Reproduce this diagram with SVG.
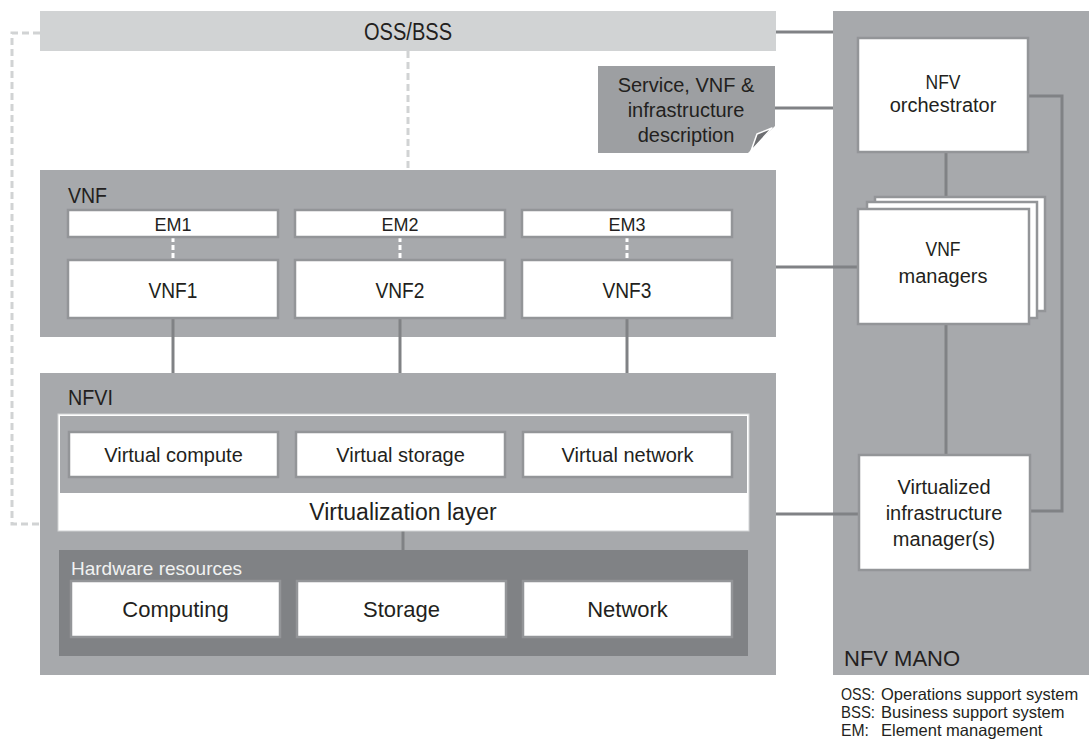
<svg xmlns="http://www.w3.org/2000/svg" width="1089" height="744" viewBox="0 0 1089 744">
<style>
text{font-family:"Liberation Sans",Arial,sans-serif;fill:#231f20}
.panel{fill:#a7a9ac}
.box{fill:#ffffff;stroke:#939598;stroke-width:2.5}
.c{text-anchor:middle}
.big{font-size:22px}
.mid{font-size:20px}
.conn{fill:none;stroke:#808285;stroke-width:3}
.dash{fill:none;stroke:#d1d3d4;stroke-width:3;stroke-dasharray:7 4}
.wdash{fill:none;stroke:#ffffff;stroke-width:3;stroke-dasharray:5 3}
</style>
<rect width="1089" height="744" fill="#ffffff"/>

<g id="connectors-back">
<path class="conn" d="M776,32 H833"/>
<path class="conn" d="M775,108 H833"/>
<path class="dash" d="M40,33 H12 V524 H40"/>
<path class="dash" d="M408,51 V170"/>
</g>

<g id="oss-bss">
<rect x="40" y="11" width="736" height="40" fill="#d1d3d4"/>
<text class="c" x="408" y="40" style="font-size:23px" textLength="88" lengthAdjust="spacingAndGlyphs">OSS/BSS</text>
</g>

<g id="description">
<polygon points="598,66 775,66 775,126 748,153 598,153" fill="#9d9fa2"/>
<polygon points="772,128 751,151 757,134" fill="#6d6e71" stroke="#ffffff" stroke-width="1.5" stroke-linejoin="round"/>
<text class="c mid" x="686" y="92">Service, VNF &amp;</text>
<text class="c mid" x="686" y="117">infrastructure</text>
<text class="c mid" x="686" y="142">description</text>
</g>

<g id="mano">
<rect x="833" y="11" width="256" height="664" class="panel"/>
<text x="844" y="666" class="big">NFV MANO</text>
</g>

<g id="vnf-panel">
<rect x="40" y="170" width="736" height="167" class="panel"/>
<text x="68" y="203" class="big" textLength="39" lengthAdjust="spacingAndGlyphs">VNF</text>
</g>

<g id="nfvi-panel">
<rect x="40" y="373" width="736" height="302" class="panel"/>
<text x="68" y="405" class="big" textLength="45" lengthAdjust="spacingAndGlyphs">NFVI</text>
</g>

<g id="connectors">
<path class="conn" d="M173,318 V373"/>
<path class="conn" d="M400,318 V373"/>
<path class="conn" d="M627,318 V373"/>
<path class="conn" d="M403,531 V550"/>
<path class="conn" d="M776,267 H858"/>
<path class="conn" d="M776,514 H859"/>
<path class="conn" d="M946,152 V197"/>
<path class="conn" d="M946,324 V455"/>
<path class="conn" d="M1028,96 H1062 V511 H1030"/>
<path class="wdash" d="M173,237 V260"/>
<path class="wdash" d="M400,237 V260"/>
<path class="wdash" d="M627,237 V260"/>
</g>

<g id="em1"><rect class="box" x="68" y="210" width="210" height="27"/><text class="c" x="173" y="231" style="font-size:19px" textLength="37" lengthAdjust="spacingAndGlyphs">EM1</text></g>
<g id="em2"><rect class="box" x="295" y="210" width="210" height="27"/><text class="c" x="400" y="231" style="font-size:19px" textLength="37" lengthAdjust="spacingAndGlyphs">EM2</text></g>
<g id="em3"><rect class="box" x="522" y="210" width="210" height="27"/><text class="c" x="627" y="231" style="font-size:19px" textLength="37" lengthAdjust="spacingAndGlyphs">EM3</text></g>

<g id="vnf1"><rect class="box" x="68" y="260" width="210" height="58"/><text class="c big" x="173" y="298" textLength="49" lengthAdjust="spacingAndGlyphs">VNF1</text></g>
<g id="vnf2"><rect class="box" x="295" y="260" width="210" height="58"/><text class="c big" x="400" y="298" textLength="49" lengthAdjust="spacingAndGlyphs">VNF2</text></g>
<g id="vnf3"><rect class="box" x="522" y="260" width="210" height="58"/><text class="c big" x="627" y="298" textLength="49" lengthAdjust="spacingAndGlyphs">VNF3</text></g>

<g id="virtualization-layer">
<rect x="58" y="414" width="691" height="117" fill="#ffffff" stroke="#d1d3d4" stroke-width="1"/>
<rect x="60" y="416" width="687" height="77" class="panel"/>
<text class="c" x="403" y="520" style="font-size:23px">Virtualization layer</text>
</g>

<g id="virtual-compute"><rect class="box" x="69" y="432" width="209" height="45"/><text class="c mid" x="173.5" y="462">Virtual compute</text></g>
<g id="virtual-storage"><rect class="box" x="296" y="432" width="209" height="45"/><text class="c mid" x="400.5" y="462">Virtual storage</text></g>
<g id="virtual-network"><rect class="box" x="523" y="432" width="209" height="45"/><text class="c mid" x="627.5" y="462">Virtual network</text></g>

<g id="hardware-resources">
<rect x="59" y="550" width="689" height="106" fill="#808285"/>
<text x="71" y="575" style="font-size:19px;fill:#f1f2f2">Hardware resources</text>
</g>

<g id="computing"><rect class="box" x="71" y="581" width="209" height="56"/><text class="c big" x="175.5" y="617">Computing</text></g>
<g id="storage"><rect class="box" x="297" y="581" width="209" height="56"/><text class="c big" x="401.5" y="617">Storage</text></g>
<g id="network"><rect class="box" x="523" y="581" width="209" height="56"/><text class="c big" x="627.5" y="617">Network</text></g>

<g id="nfv-orchestrator">
<rect class="box" x="858" y="38" width="170" height="114"/>
<text class="c mid" x="943" y="89" textLength="35" lengthAdjust="spacingAndGlyphs">NFV</text>
<text class="c mid" x="943" y="112">orchestrator</text>
</g>

<g id="vnf-managers">
<rect class="box" x="875" y="197" width="170" height="114"/>
<rect class="box" x="867" y="202" width="170" height="116"/>
<rect class="box" x="858" y="209" width="171" height="115"/>
<text class="c mid" x="943" y="256" textLength="35" lengthAdjust="spacingAndGlyphs">VNF</text>
<text class="c mid" x="943" y="283">managers</text>
</g>

<g id="vim">
<rect class="box" x="859" y="455" width="171" height="115"/>
<text class="c mid" x="944" y="494">Virtualized</text>
<text class="c mid" x="944" y="520">infrastructure</text>
<text class="c mid" x="944" y="546">manager(s)</text>
</g>

<g id="legend" style="font-size:16.5px">
<text x="841" y="700" textLength="34" lengthAdjust="spacingAndGlyphs">OSS:</text><text x="881" y="700">Operations support system</text>
<text x="841" y="718" textLength="34" lengthAdjust="spacingAndGlyphs">BSS:</text><text x="881" y="718">Business support system</text>
<text x="841" y="736" textLength="28" lengthAdjust="spacingAndGlyphs">EM:</text><text x="881" y="736">Element management</text>
</g>
</svg>
